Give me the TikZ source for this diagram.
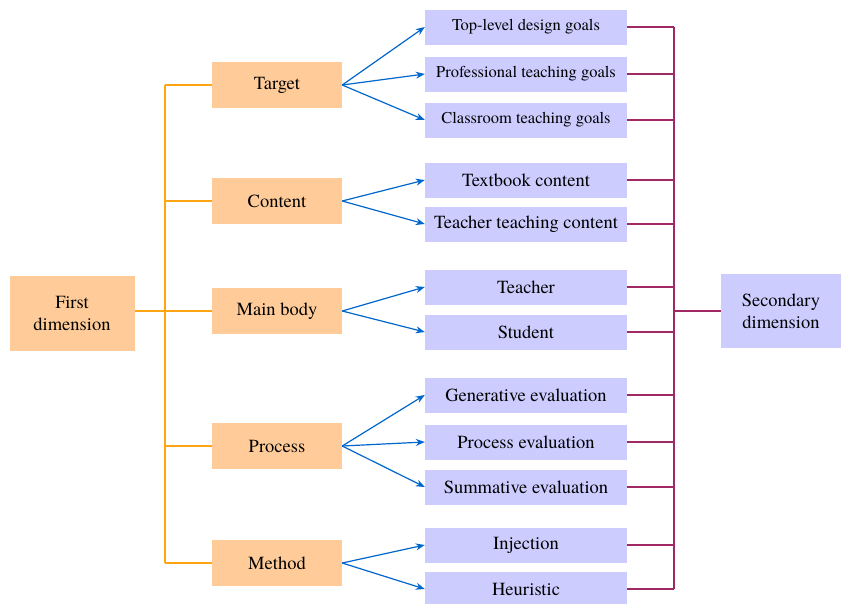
\documentclass[tikz,border=0pt]{standalone}
\usepackage{fontspec}
\setmainfont{TeX Gyre Termes}
\usetikzlibrary{arrows.meta}
\newcommand{\tikzScale}{1.0}
\newcommand{\bigText}{\rmfamily\fontsize{18.5}{22}\selectfont}
\newcommand{\smallText}{\rmfamily\fontsize{16.5}{19}\selectfont}
\newcommand{\orangeBusX}{165}
\newcommand{\purpleBusX}{674}
\definecolor{firstFill}{RGB}{255,204,153}
\definecolor{secondFill}{RGB}{204,204,255}
\definecolor{firstLine}{RGB}{255,165,20}
\definecolor{secondLine}{RGB}{160,40,100}
\definecolor{arrowBlue}{RGB}{0,102,204}

\begin{document}
\begin{tikzpicture}[x=\tikzScale pt, y=\tikzScale pt,
  dimbox/.style={fill=firstFill, inner sep=0pt, minimum width=125pt, minimum height=75pt, align=center, font=\bigText},
  topicbox/.style={fill=firstFill, inner sep=0pt, minimum width=130pt, minimum height=46pt, font=\bigText},
  itembox/.style={fill=secondFill, inner sep=0pt, minimum width=202pt, minimum height=35pt, font=\bigText},
  smallitem/.style={itembox, font=\smallText},
  seconddim/.style={fill=secondFill, inner sep=0pt, minimum width=120pt, minimum height=74pt, align=center, font=\bigText},
  orangeline/.style={draw=firstLine, line width=1.2pt},
  purpleline/.style={draw=secondLine, line width=1.2pt},
  bluearrow/.style={draw=arrowBlue, line width=1.2pt, -{Stealth[length=9pt,width=7pt]}}]
\useasboundingbox (0,0) rectangle (841,-603);
% first dimension and its topics
\node[dimbox] (first) at (72,-313) {First\\dimension};
\node[topicbox] (target) at (277,-85) {Target};
\node[topicbox] (content) at (277,-201) {Content};
\node[topicbox] (mainbody) at (277,-311) {Main body};
\node[topicbox] (process) at (277,-446) {Process};
\node[topicbox] (method) at (277,-563) {Method};
% items
\node[smallitem] (toplevel) at (526,-27) {Top-level design goals};
\node[smallitem] (professional) at (526,-74) {Professional teaching goals};
\node[smallitem] (classroom) at (526,-120) {Classroom teaching goals};
\node[itembox] (textbook) at (526,-180) {Textbook content};
\node[itembox] (teachcontent) at (526,-224) {Teacher teaching content};
\node[itembox] (teacher) at (526,-287) {Teacher};
\node[itembox] (student) at (526,-332) {Student};
\node[itembox] (generative) at (526,-395) {Generative evaluation};
\node[itembox] (processeval) at (526,-442) {Process evaluation};
\node[itembox] (summative) at (526,-487) {Summative evaluation};
\node[itembox] (injection) at (526,-545) {Injection};
\node[itembox] (heuristic) at (526,-589) {Heuristic};
\node[seconddim] (second) at (781,-311) {Secondary\\dimension};
% orange tree
\coordinate (obus) at (\orangeBusX,0);
\draw[orangeline] (target.west -| obus) -- (method.west -| obus);
\draw[orangeline] (target.west) -- (target.west -| obus);
\draw[orangeline] (content.west) -- (content.west -| obus);
\draw[orangeline] (process.west) -- (process.west -| obus);
\draw[orangeline] (method.west) -- (method.west -| obus);
\draw[orangeline] (first.east |- mainbody.west) -- (mainbody.west);
% blue arrows
\draw[bluearrow] (target.east) -- (toplevel.west);
\draw[bluearrow] (target.east) -- (professional.west);
\draw[bluearrow] (target.east) -- (classroom.west);
\draw[bluearrow] (content.east) -- (textbook.west);
\draw[bluearrow] (content.east) -- (teachcontent.west);
\draw[bluearrow] (mainbody.east) -- (teacher.west);
\draw[bluearrow] (mainbody.east) -- (student.west);
\draw[bluearrow] (process.east) -- (generative.west);
\draw[bluearrow] (process.east) -- (processeval.west);
\draw[bluearrow] (process.east) -- (summative.west);
\draw[bluearrow] (method.east) -- (injection.west);
\draw[bluearrow] (method.east) -- (heuristic.west);
% purple tree
\coordinate (pbus) at (\purpleBusX,0);
\draw[purpleline] (toplevel.east -| pbus) -- (heuristic.east -| pbus);
\draw[purpleline] (toplevel.east) -- (toplevel.east -| pbus);
\draw[purpleline] (professional.east) -- (professional.east -| pbus);
\draw[purpleline] (classroom.east) -- (classroom.east -| pbus);
\draw[purpleline] (textbook.east) -- (textbook.east -| pbus);
\draw[purpleline] (teachcontent.east) -- (teachcontent.east -| pbus);
\draw[purpleline] (teacher.east) -- (teacher.east -| pbus);
\draw[purpleline] (student.east) -- (student.east -| pbus);
\draw[purpleline] (generative.east) -- (generative.east -| pbus);
\draw[purpleline] (processeval.east) -- (processeval.east -| pbus);
\draw[purpleline] (summative.east) -- (summative.east -| pbus);
\draw[purpleline] (injection.east) -- (injection.east -| pbus);
\draw[purpleline] (heuristic.east) -- (heuristic.east -| pbus);
\draw[purpleline] (pbus |- second.west) -- (second.west);
\end{tikzpicture}
\end{document}
